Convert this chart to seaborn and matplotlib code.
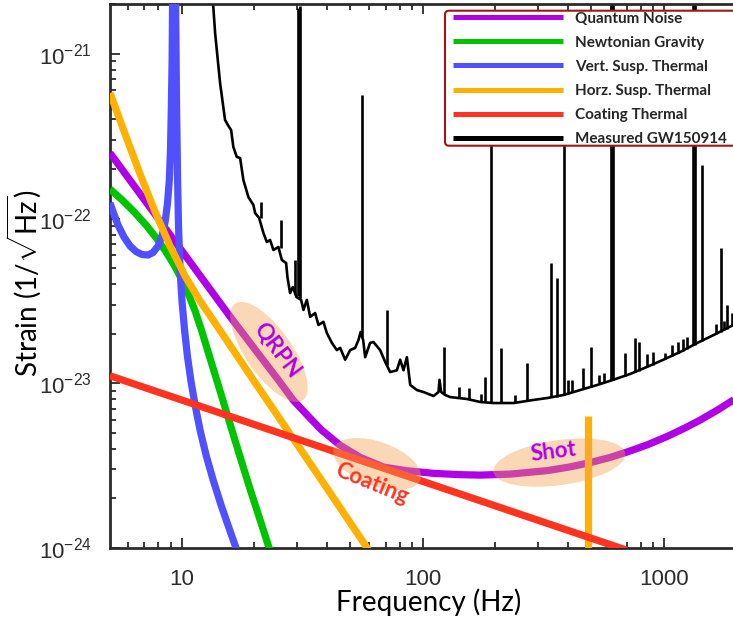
import numpy as np
import matplotlib
matplotlib.use("Agg")
import matplotlib.pyplot as plt
import seaborn as sns
from matplotlib.patches import Ellipse, FancyBboxPatch
from matplotlib.lines import Line2D
from matplotlib import transforms
from matplotlib.ticker import FixedLocator, FixedFormatter, LogLocator, NullFormatter

# ---------------- noise budget curves (Hz, strain / sqrt(Hz)) ----------------
quantum_f = [5.04, 10.15, 15.9, 20.5, 25.0, 29.0, 33.0, 38.0, 45.4, 55.0, 68.6, 85.0,
             110.8, 140.0, 172.9, 230.2, 328.0, 408.6, 494.6, 598.7, 704.3, 852.6, 1032.0,
             1226.0, 1415.0, 1680.0, 1940.0, 2014.0]
quantum_h = [2.50e-22, 6.2e-23, 2.53e-23, 1.55e-23, 1.06e-23, 7.9e-24, 6.45e-24, 5.2e-24, 4.2e-24,
             3.55e-24, 3.1e-24, 2.95e-24, 2.84e-24, 2.79e-24, 2.77e-24, 2.81e-24, 2.95e-24,
             3.11e-24, 3.30e-24, 3.55e-24, 3.83e-24, 4.23e-24, 4.76e-24, 5.37e-24, 5.99e-24,
             6.93e-24, 7.92e-24, 8.22e-24]

newtonian_f = [5.04, 5.65, 6.34, 7.11, 7.90, 8.61, 9.29, 9.93, 10.62, 11.36, 12.14, 13.10,
               14.42, 15.86, 17.46, 19.20, 21.13, 23.25]
newtonian_h = [1.51e-22, 1.30e-22, 1.10e-22, 9.14e-23, 7.52e-23, 6.27e-23, 5.23e-23, 4.36e-23,
               3.53e-23, 2.75e-23, 2.05e-23, 1.42e-23, 8.98e-24, 5.66e-24, 3.57e-24, 2.28e-24,
               1.48e-24, 9.59e-25]

vert_susp_f = [5.04, 5.19, 5.44, 5.76, 6.10, 6.46, 6.84, 7.25, 7.60, 7.98, 8.28, 8.53, 8.73,
               8.88, 8.98, 9.05, 9.12, 9.17, 9.29, 9.43, 9.51, 9.61, 9.70, 9.84, 10.03, 10.27,
               10.57, 10.93, 11.36, 11.91, 12.61, 13.49, 14.56, 15.71, 16.96]
vert_susp_h = [1.245e-22, 1.10e-22, 9.14e-23, 7.73e-23, 6.82e-23, 6.31e-23, 6.05e-23, 6.01e-23,
               6.22e-23, 6.82e-23, 7.84e-23, 9.54e-23, 1.245e-22, 1.71e-22, 2.61e-22, 4.56e-22,
               9.18e-22, 2.5e-21, 6e-21, 2.01e-21, 5.25e-22, 1.71e-22, 8.77e-23, 4.88e-23,
               3.12e-23, 2.11e-23, 1.44e-23, 1.02e-23, 7.38e-24, 5.20e-24, 3.67e-24, 2.59e-24,
               1.82e-24, 1.32e-24, 9.59e-25]

horz_susp_f = [5.04, 5.82, 6.71, 7.75, 8.94, 10.32, 11.91, 13.75, 19.20, 28.14, 41.24, 58.74, 61.6]
horz_susp_h = [5.79e-22, 3.26e-22, 1.87e-22, 1.10e-22, 6.82e-23, 4.48e-23, 3.16e-23, 2.32e-23,
               1.12e-23, 4.92e-24, 2.16e-24, 1.0e-24, 9.0e-25]
violin_f = [485.0, 485.0]
violin_h = [6.33e-24, 9.0e-25]

coating_f = [5.04, 700.0]
coating_h = [1.11e-23, 9.7e-25]

# ---------------- measured GW150914 sensitivity ----------------
measured_f = [13.2, 13.75, 14.42, 15.12, 15.71, 16.02, 16.37, 16.91, 17.46, 18.02, 18.90, 19.82,
              20.15, 20.93, 21.81, 22.53, 23.25, 23.99, 25.17, 26.00, 27.09, 27.43, 28.14, 28.88,
              29.89, 31.26, 31.96, 33.02, 34.08, 35.74, 36.89, 38.69, 39.97, 41.93, 43.98, 45.39,
              47.61, 49.93, 52.37, 54.05, 55.19, 56.53, 57.63, 60.42, 62.37, 66.49, 69.74, 73.15,
              78.01, 80.51, 83.10, 85.84, 88.60, 94.44, 100.6, 110.7, 116.1, 117.2, 119.1, 123.7,
              129.8, 152.3, 172.9, 195.8, 237.6, 286.9, 328.0, 383.0, 449.4, 528.7, 616.0, 724.8,
              852.6, 993.4, 1168.0, 1375.0, 1602.0, 1939.0, 2014.0]
measured_h = [3.2e-21, 1.34e-21, 6.66e-22, 3.97e-22, 3.60e-22, 3.45e-22, 2.72e-22, 2.37e-22,
              2.33e-22, 1.71e-22, 1.35e-22, 1.21e-22, 1.08e-22, 1.01e-22, 8.18e-23, 7.21e-23,
              7.41e-23, 6.45e-23, 6.72e-23, 5.61e-23, 5.37e-23, 4.42e-23, 3.53e-23, 3.84e-23,
              3.34e-23, 3.21e-23, 2.79e-23, 3.21e-23, 2.53e-23, 2.67e-23, 2.26e-23, 2.36e-23,
              2.02e-23, 1.76e-23, 1.59e-23, 1.64e-23, 1.39e-23, 1.59e-23, 1.64e-23, 1.83e-23,
              2.05e-23, 1.83e-23, 1.44e-23, 1.76e-23, 1.78e-23, 1.59e-23, 1.35e-23, 1.17e-23,
              1.20e-23, 1.39e-23, 1.20e-23, 1.44e-23, 9.77e-24, 9.10e-24, 8.85e-24, 8.37e-24,
              8.85e-24, 1.05e-23, 8.85e-24, 8.49e-24, 8.25e-24, 8.03e-24, 7.70e-24, 7.59e-24,
              7.59e-24, 7.92e-24, 8.14e-24, 8.49e-24, 9.10e-24, 9.77e-24, 1.05e-23, 1.14e-23,
              1.26e-23, 1.39e-23, 1.55e-23, 1.76e-23, 1.96e-23, 2.26e-23, 2.32e-23]

# narrow spectral lines: frequency, floor level, peak level
line_f = [21.33, 25.75, 29.52, 30.24, 30.82, 55.99, 71.29, 121.8, 141.4, 154.6, 175.0, 181.4,
          192.1, 211.3, 240.0, 270.1, 340.7, 359.7, 383.1, 399.6, 415.0, 459.4, 498.0, 540.0,
          565.0, 604.4, 616.0, 690.9, 760.3, 784.5, 850.0, 900.0, 1012.5, 1080.0, 1143.0,
          1200.0, 1246.0, 1323.0, 1349.0, 1438.0, 1650.0, 1729.0, 1780.0, 1826.0, 1915.0]
line_base = [1.01e-22, 6.6e-23, 3.5e-23, 3.4e-23, 3.3e-23, 1.9e-23, 1.3e-23, 8.6e-24, 8.1e-24,
             8.0e-24, 7.7e-24, 7.7e-24, 7.6e-24, 7.6e-24, 7.6e-24, 7.8e-24, 8.2e-24, 8.3e-24,
             8.5e-24, 8.6e-24, 8.8e-24, 9.2e-24, 9.5e-24, 1.0e-23, 1.02e-23, 1.04e-23, 1.05e-23,
             1.11e-23, 1.17e-23, 1.19e-23, 1.26e-23, 1.29e-23, 1.40e-23, 1.46e-23, 1.52e-23,
             1.58e-23, 1.62e-23, 1.70e-23, 1.72e-23, 1.80e-23, 2.0e-23, 2.05e-23, 2.1e-23,
             2.15e-23, 2.22e-23]
line_top = [1.26e-22, 9.81e-23, 5.61e-23, 1.90e-21, 1.95e-21, 5.63e-22, 2.79e-23, 1.66e-23,
            9.5e-24, 9.36e-24, 8.6e-24, 1.09e-23, 9.2e-22, 1.64e-23, 8.5e-24, 1.33e-23, 5.37e-23,
            4.36e-23, 9.2e-22, 1.05e-23, 1.05e-23, 1.24e-23, 1.66e-23, 1.12e-23, 1.15e-23, 3e-21,
            3e-21, 1.53e-23, 1.88e-23, 1.78e-23, 1.5e-23, 1.55e-23, 1.53e-23, 1.7e-23, 1.78e-23,
            1.85e-23, 1.91e-23, 3e-21, 3e-21, 2.12e-22, 2.3e-23, 6.63e-23, 2.4e-23, 2.99e-23,
            2.67e-23]

series_labels = ["Quantum Noise", "Newtonian Gravity", "Vert. Susp. Thermal",
                 "Horz. Susp. Thermal", "Coating Thermal", "Measured GW150914"]
series_colors = ["#B000E6", "#00C400", "#5050FF", "#FFB000", "#FF3320", "#000000"]

x_ticks = [10, 100, 1000]
x_tick_labels = ["10", "100", "1000"]
y_ticks = [1e-24, 1e-23, 1e-22, 1e-21]

# ---------------- styling ----------------
sns.set_theme(style="ticks")
plt.rcParams["font.family"] = ["Liberation Sans", "DejaVu Sans"]
plt.rcParams["axes.unicode_minus"] = False
plt.rcParams["mathtext.fontset"] = "custom"
plt.rcParams["mathtext.rm"] = "Lato"
plt.rcParams["mathtext.it"] = "Lato:italic"
plt.rcParams["mathtext.bf"] = "Lato:bold"

axis_color = "#2b2b2b"
W, H = 733, 620
fig = plt.figure(figsize=(W / 100, H / 100), dpi=100)
ax = fig.add_axes([110 / W, 72 / H, 626.6 / W, 543.7 / H])
ax.set_xscale("log")
ax.set_yscale("log")
ax.set_xlim(5.04, 2000)
ax.set_ylim(1e-24, 2e-21)

lw = 5.2


def curve(f, h, color, z):
    sns.lineplot(x=f, y=h, ax=ax, color=color, linewidth=lw, sort=False,
                 estimator=None, legend=False, zorder=z, solid_capstyle="butt",
                 solid_joinstyle="round")


curve(quantum_f, quantum_h, series_colors[0], 3.0)
curve(newtonian_f, newtonian_h, series_colors[1], 3.1)
curve(vert_susp_f, vert_susp_h, series_colors[2], 3.2)
curve(horz_susp_f, horz_susp_h, series_colors[3], 3.3)
curve(violin_f, violin_h, series_colors[3], 3.35)
curve(coating_f, coating_h, series_colors[4], 3.4)

sns.lineplot(x=measured_f, y=measured_h, ax=ax, color="black", linewidth=1.9, sort=False,
             estimator=None, legend=False, zorder=2.5)
ax.vlines(line_f, line_base, line_top, colors="black", linewidth=1.9, zorder=2.5)

# ---------------- highlighted regions ----------------
def blob(f, h, w_px, h_px, angle):
    tr = fig.dpi_scale_trans + transforms.ScaledTranslation(f, h, ax.transData)
    e = Ellipse((0, 0), w_px / 100, h_px / 100, angle=angle, transform=tr,
                facecolor="#F5A050", edgecolor="none", alpha=0.42, zorder=4)
    ax.add_patch(e)


blob(23.0, 1.55e-23, 118, 46, -55)
blob(64.6, 3.24e-24, 92, 44, -20)
blob(368.0, 3.30e-24, 133, 45, 8)

txt = dict(family="Lato", weight="bold", fontsize=16, ha="center", va="center",
           rotation_mode="anchor", zorder=5)
ax.text(24.8, 1.59e-23, "QRPN", color=series_colors[0], rotation=-53, **txt)
ax.text(61.4, 2.47e-24, "Coating", color=series_colors[4], rotation=-22, **txt)
ax.text(348.0, 3.85e-24, "Shot", color=series_colors[0], rotation=7, **txt)

# ---------------- axes ----------------
ax.xaxis.set_major_locator(FixedLocator(x_ticks))
ax.xaxis.set_major_formatter(FixedFormatter(x_tick_labels))
ax.xaxis.set_minor_locator(LogLocator(base=10, subs=np.arange(2, 10), numticks=30))
ax.xaxis.set_minor_formatter(NullFormatter())
ax.yaxis.set_major_locator(FixedLocator(y_ticks))
ax.yaxis.set_minor_locator(LogLocator(base=10, subs=np.arange(2, 10), numticks=30))
ax.yaxis.set_minor_formatter(NullFormatter())

ax.tick_params(which="both", direction="in", top=True, right=False, color=axis_color,
               width=1.3, labelcolor=axis_color, labelsize=16)
ax.tick_params(which="major", length=7)
ax.tick_params(which="minor", length=4)
ax.tick_params(axis="x", which="major", pad=15)
ax.tick_params(axis="y", which="major", pad=13)
for side in ["left", "bottom", "top"]:
    ax.spines[side].set_color(axis_color)
    ax.spines[side].set_linewidth(2.0)
ax.spines["right"].set_visible(False)

ax.set_xlabel("Frequency (Hz)", family="Lato", fontsize=20, color="black")
ax.set_ylabel(r"Strain (1/$\sqrt{\mathrm{Hz}}$)", family="Lato", fontsize=20, color="black")
ax.xaxis.set_label_coords(0.509, -0.074)
ax.yaxis.set_label_coords(-0.106, 0.487)

# ---------------- legend ----------------
frame = FancyBboxPatch((445, H - 145.7), 320, 135, boxstyle="round,pad=0,rounding_size=4",
                       transform=transforms.IdentityTransform(), facecolor="white",
                       edgecolor="#A31515", linewidth=1.5, zorder=1)
fig.patches.append(frame)
frame.set_figure(fig)

handles = [Line2D([0], [0], color=c, linewidth=3.6, solid_capstyle="butt") for c in series_colors]
fig.legend(handles, series_labels, loc="upper left",
           bbox_to_anchor=(452.7 / W, 1 - 11.6 / H), bbox_transform=fig.transFigure,
           frameon=False, borderpad=0, borderaxespad=0, handlelength=7.23,
           handletextpad=0.76, labelspacing=0.66,
           prop=dict(family="Lato", weight="bold", size=11))

fig.savefig("out.png", dpi=100)
